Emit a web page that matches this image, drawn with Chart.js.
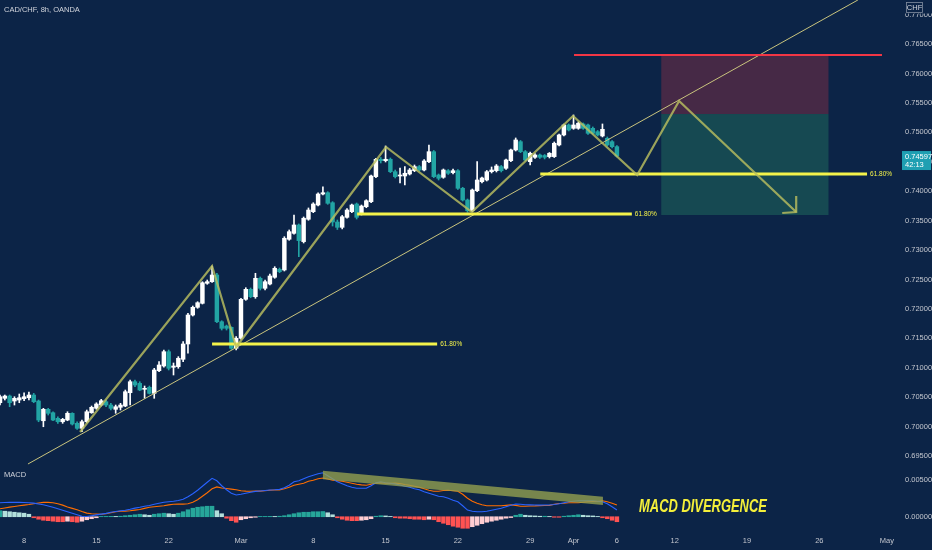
<!DOCTYPE html>
<html>
<head>
<meta charset="utf-8">
<script src="https://cdn.jsdelivr.net/npm/chart.js@4.4.1/dist/chart.umd.min.js"></script>
<style>
  html, body { margin: 0; padding: 0; background: #0c2447; }
  #wrap { width: 932px; height: 550px; position: relative; }
</style>
</head>
<body>
<div id="wrap"><canvas id="chart" width="932" height="550"></canvas></div>
<script>
// 8h candles, index 0 = Feb 8 (15 candles per trading week)
const firstIndex = -5;

const opens = [
  0.70406,0.70481,0.70520,0.70435,0.70452,
  0.70474,0.70491,0.70537,0.70435,0.70100,
  0.70294,0.70236,0.70141,0.70083,0.70112,
  0.70226,0.70056,0.69971,0.70083,0.70236,
  0.70311,0.70367,0.70423,0.70367,0.70294,
  0.70328,0.70350,0.70576,0.70763,0.70735,
  0.70634,0.70668,0.70565,0.70950,0.71030,
  0.71273,0.71008,0.71019,0.71144,0.71404,
  0.71896,0.72027,0.72095,0.72435,0.72462,
  0.72576,0.71782,0.71708,0.71687,0.71331,
  0.71501,0.72163,0.72333,0.72207,0.72520,
  0.72350,0.72423,0.72537,0.72673,0.72661,
  0.73183,0.73284,0.73426,0.73143,0.73523,
  0.73652,0.73765,0.73952,0.73974,0.73804,
  0.73476,0.73386,0.73556,0.73652,0.73782,
  0.73612,0.73736,0.73821,0.74247,0.74542,
  0.74518,0.74542,0.74331,0.74258,0.74258,
  0.74292,0.74348,0.74417,0.74360,0.74501,
  0.74671,0.74275,0.74236,0.74348,0.74315,
  0.74348,0.74049,0.73850,0.73668,0.74008,
  0.74161,0.74190,0.74331,0.74348,0.74417,
  0.74389,0.74518,0.74700,0.74841,0.74671,
  0.74501,0.74576,0.74615,0.74606,0.74587,
  0.74587,0.74785,0.74955,0.75125,0.75068,
  0.75068,0.75142,0.75125,0.75068,0.75011,
  0.74938,0.74898,0.74841,0.74756
];
const highs = [
  0.70537,0.70537,0.70537,0.70508,0.70554,
  0.70576,0.70588,0.70565,0.70452,0.70311,
  0.70311,0.70253,0.70168,0.70141,0.70253,
  0.70236,0.70083,0.70112,0.70282,0.70350,
  0.70406,0.70464,0.70452,0.70396,0.70367,
  0.70396,0.70622,0.70792,0.70792,0.70763,
  0.70690,0.70690,0.70990,0.71103,0.71302,
  0.71302,0.71081,0.71189,0.71443,0.71925,
  0.72049,0.72122,0.72462,0.72491,0.72729,
  0.72605,0.71799,0.71725,0.71695,0.71528,
  0.72180,0.72360,0.72355,0.72605,0.72542,
  0.72491,0.72593,0.72717,0.72695,0.73227,
  0.73341,0.73596,0.73443,0.73562,0.73715,
  0.73804,0.73974,0.74076,0.73991,0.73822,
  0.73510,0.73588,0.73706,0.73782,0.73799,
  0.73765,0.73855,0.74275,0.74559,0.74572,
  0.74768,0.74564,0.74360,0.74394,0.74417,
  0.74386,0.74445,0.74437,0.74538,0.74785,
  0.74691,0.74292,0.74377,0.74368,0.74377,
  0.74368,0.74066,0.73867,0.74037,0.74501,
  0.74241,0.74352,0.74411,0.74453,0.74437,
  0.74547,0.74717,0.74904,0.74861,0.74691,
  0.74666,0.74640,0.74632,0.74623,0.74657,
  0.74836,0.74972,0.75142,0.75142,0.75295,
  0.75176,0.75159,0.75142,0.75091,0.75031,
  0.75142,0.74921,0.74861,0.74776
];
const lows = [
  0.70367,0.70452,0.70338,0.70367,0.70406,
  0.70440,0.70452,0.70406,0.70083,0.69998,
  0.70197,0.70100,0.70056,0.70056,0.70100,
  0.70027,0.69954,0.69913,0.70066,0.70226,
  0.70294,0.70350,0.70338,0.70282,0.70226,
  0.70282,0.70338,0.70367,0.70678,0.70610,
  0.70481,0.70554,0.70481,0.70933,0.71008,
  0.70962,0.70877,0.70991,0.71103,0.71246,
  0.71879,0.72010,0.72083,0.72418,0.72452,
  0.71765,0.71641,0.71641,0.71313,0.71302,
  0.71484,0.72146,0.72190,0.72180,0.72321,
  0.72321,0.72406,0.72520,0.72615,0.72644,
  0.73166,0.73268,0.72887,0.73120,0.73506,
  0.73635,0.73748,0.73935,0.73777,0.73408,
  0.73349,0.73359,0.73540,0.73635,0.73527,
  0.73595,0.73719,0.73804,0.74230,0.74479,
  0.74496,0.74314,0.74224,0.74139,0.74105,
  0.74275,0.74331,0.74343,0.74343,0.74484,
  0.74230,0.74190,0.74219,0.74284,0.74292,
  0.74032,0.73833,0.73641,0.73651,0.73991,
  0.74139,0.74173,0.74309,0.74326,0.74326,
  0.74368,0.74501,0.74683,0.74654,0.74513,
  0.74445,0.74555,0.74555,0.74547,0.74564,
  0.74572,0.74768,0.74938,0.75023,0.75051,
  0.75051,0.75051,0.74966,0.74966,0.74938,
  0.74921,0.74768,0.74734,0.74581
];
const closes = [
  0.70508,0.70520,0.70406,0.70481,0.70491,
  0.70508,0.70537,0.70423,0.70112,0.70294,
  0.70226,0.70112,0.70083,0.70124,0.70226,
  0.70044,0.69971,0.70083,0.70253,0.70328,
  0.70384,0.70440,0.70367,0.70311,0.70338,
  0.70367,0.70593,0.70763,0.70707,0.70622,
  0.70651,0.70565,0.70962,0.71047,0.71273,
  0.70991,0.71030,0.71161,0.71404,0.71896,
  0.72027,0.72105,0.72445,0.72462,0.72576,
  0.71782,0.71670,0.71670,0.71331,0.71501,
  0.72163,0.72333,0.72207,0.72520,0.72350,
  0.72462,0.72559,0.72690,0.72632,0.73200,
  0.73312,0.73426,0.73160,0.73540,0.73680,
  0.73782,0.73952,0.73974,0.73794,0.73476,
  0.73386,0.73566,0.73680,0.73765,0.73556,
  0.73748,0.73838,0.74258,0.74542,0.74518,
  0.74542,0.74331,0.74247,0.74275,0.74304,
  0.74360,0.74417,0.74360,0.74513,0.74671,
  0.74247,0.74219,0.74360,0.74304,0.74348,
  0.74049,0.73850,0.73668,0.74020,0.74190,
  0.74224,0.74331,0.74360,0.74428,0.74348,
  0.74530,0.74700,0.74870,0.74671,0.74530,
  0.74644,0.74615,0.74576,0.74576,0.74644,
  0.74814,0.74955,0.75125,0.75040,0.75125,
  0.75154,0.75068,0.74983,0.74983,0.74955,
  0.75051,0.74785,0.74756,0.74597
];

// MACD (12,26,9)
const macdLine = [
  0.00191,0.00193,0.00195,0.00196,0.00195,
  0.00193,0.00191,0.00185,0.00174,0.00163,
  0.00147,0.00129,0.00109,0.00089,0.00068,
  0.00048,0.00027,0.00007,0.00004,0.00014,
  0.00025,0.00035,0.00046,0.00061,0.00071,
  0.00082,0.00089,0.00102,0.00117,0.00129,
  0.00143,0.00153,0.00170,0.00184,0.00197,
  0.00204,0.00210,0.00221,0.00238,0.00272,
  0.00313,0.00361,0.00415,0.00470,0.00523,
  0.00490,0.00422,0.00368,0.00320,0.00296,
  0.00306,0.00320,0.00334,0.00345,0.00351,
  0.00358,0.00365,0.00368,0.00373,0.00395,
  0.00429,0.00477,0.00490,0.00518,0.00545,
  0.00565,0.00586,0.00599,0.00558,0.00518,
  0.00477,0.00449,0.00422,0.00402,0.00388,
  0.00387,0.00387,0.00422,0.00463,0.00477,
  0.00463,0.00456,0.00447,0.00432,0.00415,
  0.00402,0.00381,0.00368,0.00341,0.00320,
  0.00300,0.00279,0.00272,0.00252,0.00225,
  0.00204,0.00150,0.00091,0.00075,0.00068,
  0.00068,0.00075,0.00089,0.00102,0.00116,
  0.00136,0.00157,0.00173,0.00170,0.00163,
  0.00161,0.00159,0.00158,0.00159,0.00159,
  0.00166,0.00177,0.00191,0.00204,0.00211,
  0.00218,0.00218,0.00218,0.00218,0.00211,
  0.00204,0.00177,0.00136,0.00091
];
const signalLine = [
  0.00109,0.00120,0.00131,0.00140,0.00150,
  0.00158,0.00166,0.00177,0.00188,0.00195,
  0.00196,0.00191,0.00177,0.00158,0.00133,
  0.00114,0.00095,0.00071,0.00049,0.00041,
  0.00038,0.00034,0.00041,0.00054,0.00067,
  0.00075,0.00076,0.00082,0.00090,0.00098,
  0.00114,0.00129,0.00136,0.00143,0.00150,
  0.00161,0.00170,0.00173,0.00172,0.00177,
  0.00197,0.00232,0.00279,0.00327,0.00380,
  0.00406,0.00391,0.00385,0.00376,0.00368,
  0.00354,0.00349,0.00347,0.00351,0.00349,
  0.00354,0.00360,0.00364,0.00366,0.00381,
  0.00402,0.00429,0.00443,0.00456,0.00484,
  0.00497,0.00518,0.00528,0.00515,0.00497,
  0.00490,0.00484,0.00470,0.00456,0.00443,
  0.00434,0.00428,0.00443,0.00456,0.00463,
  0.00456,0.00454,0.00458,0.00452,0.00439,
  0.00429,0.00415,0.00402,0.00381,0.00361,
  0.00347,0.00347,0.00357,0.00361,0.00354,
  0.00347,0.00306,0.00252,0.00211,0.00184,
  0.00163,0.00150,0.00150,0.00150,0.00150,
  0.00155,0.00161,0.00155,0.00143,0.00143,
  0.00147,0.00148,0.00151,0.00153,0.00155,
  0.00169,0.00180,0.00184,0.00191,0.00191,
  0.00191,0.00197,0.00204,0.00207,0.00207,
  0.00218,0.00204,0.00184,0.00159
];
const histogram = [
  0.00082,0.00075,0.00068,0.00061,0.00054,
  0.00048,0.00034,-0.00014,-0.00034,-0.00048,
  -0.00054,-0.00061,-0.00068,-0.00068,-0.00061,
  -0.00068,-0.00075,-0.00061,-0.00041,-0.00027,
  -0.00014,0.00004,0.00004,0.00005,0.00004,
  0.00007,0.00014,0.00020,0.00027,0.00034,
  0.00027,0.00020,0.00034,0.00041,0.00048,
  0.00041,0.00034,0.00048,0.00068,0.00095,
  0.00116,0.00129,0.00136,0.00143,0.00143,
  0.00082,0.00041,-0.00020,-0.00054,-0.00075,
  -0.00041,-0.00027,-0.00014,-0.00007,0.00004,
  0.00004,0.00005,0.00004,0.00007,0.00014,
  0.00027,0.00041,0.00054,0.00061,0.00061,
  0.00068,0.00068,0.00071,0.00054,0.00027,
  -0.00014,-0.00034,-0.00048,-0.00054,-0.00054,
  -0.00048,-0.00041,-0.00027,0.00007,0.00014,
  0.00011,0.00004,-0.00014,-0.00020,-0.00020,
  -0.00027,-0.00034,-0.00034,-0.00041,-0.00034,
  -0.00041,-0.00068,-0.00089,-0.00109,-0.00129,
  -0.00143,-0.00157,-0.00157,-0.00136,-0.00116,
  -0.00095,-0.00075,-0.00061,-0.00048,-0.00034,
  -0.00020,-0.00011,0.00020,0.00034,0.00020,
  0.00014,0.00011,0.00007,0.00007,0.00004,
  -0.00007,-0.00007,0.00007,0.00014,0.00020,
  0.00027,0.00020,0.00014,0.00011,0.00004,
  -0.00014,-0.00027,-0.00048,-0.00068
];

// axis ticks
const tickPositions = [0, 15, 30, 45, 60, 75, 90, 105, 114, 123, 135, 150, 165, 179];
const tickLabels = ['8', '15', '22', 'Mar', '8', '15', '22', '29', 'Apr', '6', '12', '19', '26', 'May'];
const priceTicks = [0.695, 0.700, 0.705, 0.710, 0.715, 0.720, 0.725, 0.730, 0.735, 0.740, 0.745, 0.750, 0.755, 0.760, 0.765, 0.770];
const macdTicks = [0, 0.005];

// drawings in (candle index, price) space
const trendLine = [[0.8, 0.69365], [173.0, 0.77248]];
const waveLine = [[11.6, 0.69908], [39.0, 0.72729], [44.0, 0.71353], [75.1, 0.74751], [92.9, 0.73646],
                  [113.9, 0.75277], [127.2, 0.74275], [135.9, 0.75532], [160.2, 0.73646]];
const arrowHead = [[157.3, 0.73629], [160.2, 0.73646], [160.2, 0.73918]];
const fibLevels = [
  { from: 39.0, to: 85.7, price: 0.71404, label: '61.80%' },
  { from: 69.1, to: 126.1, price: 0.73612, label: '61.80%' },
  { from: 107.1, to: 174.9, price: 0.74292, label: '61.80%' }
];
const stopLine = { from: 114.1, to: 178.0, price: 0.76314 };
const riskZone = { from: 132.2, to: 166.9, top: 0.76314, bottom: 0.75311 };
const rewardZone = { from: 132.2, to: 166.9, top: 0.75311, bottom: 0.73595 };
const divergenceBand = [[62.0, 0.00627], [120.1, 0.00272], [120.1, 0.00159], [62.0, 0.00510]];
const divergenceText = { x: 127.6, y: 0.00064, text: 'MACD DIVERGENCE' };

const upColor = '#ffffff';
const downColor = '#22a4a4';
const axisFont = { family: 'Liberation Sans', size: 7.5 };
const axisColor = '#c3c6ce';

const indexes = closes.map((c, i) => firstIndex + i);
const wickData = indexes.map((v, i) => ({ x: v, y: [lows[i], highs[i]] }));
const bodyData = indexes.map((v, i) => ({ x: v, y: [opens[i], closes[i]] }));
const candleColor = ctx => closes[ctx.dataIndex] >= opens[ctx.dataIndex] ? upColor : downColor;
const histColor = ctx => {
  const i = ctx.dataIndex;
  const h = histogram[i];
  const prev = i > 0 ? histogram[i - 1] : h;
  if (h >= 0) return h >= prev ? '#26a69a' : '#b2dfdb';
  return h <= prev ? '#ff5252' : '#ffcdd2';
};
const noPadding = scale => {
  scale.width = 37;
  scale.paddingTop = 0;
  scale.paddingBottom = 0;
};

function line(ctx, pts, px, py) {
  ctx.beginPath();
  pts.forEach((p, i) => {
    const X = px(p[0]), Y = py(p[1]);
    if (i === 0) ctx.moveTo(X, Y); else ctx.lineTo(X, Y);
  });
}

const drawings = {
  id: 'drawings',
  beforeDatasetsDraw(chart) {
    const { ctx, scales: { x, y } } = chart;
    const px = v => x.getPixelForValue(v);
    const py = v => y.getPixelForValue(v);
    ctx.save();
    ctx.fillStyle = 'rgba(242,54,69,0.25)';
    ctx.fillRect(px(riskZone.from), py(riskZone.top), px(riskZone.to) - px(riskZone.from), py(riskZone.bottom) - py(riskZone.top));
    ctx.fillStyle = 'rgba(50,170,110,0.28)';
    ctx.fillRect(px(rewardZone.from), py(rewardZone.top), px(rewardZone.to) - px(rewardZone.from), py(rewardZone.bottom) - py(rewardZone.top));
    ctx.restore();
  },
  afterDatasetsDraw(chart) {
    const { ctx, scales: { x, y, yM } } = chart;
    const px = v => x.getPixelForValue(v);
    const py = v => y.getPixelForValue(v);
    const pm = v => yM.getPixelForValue(v);

    ctx.save();
    ctx.beginPath();
    ctx.rect(x.left, y.top, x.right - x.left, y.bottom - y.top);
    ctx.clip();

    // thin trend line
    ctx.strokeStyle = '#c9c47e';
    ctx.lineWidth = 1;
    line(ctx, trendLine, px, py);
    ctx.stroke();

    // fib levels
    ctx.strokeStyle = '#f4f34a';
    ctx.lineWidth = 3;
    ctx.fillStyle = '#f4f34a';
    ctx.font = '6.5px "Liberation Sans"';
    ctx.textBaseline = 'middle';
    fibLevels.forEach(f => {
      ctx.beginPath();
      ctx.moveTo(px(f.from), py(f.price));
      ctx.lineTo(px(f.to), py(f.price));
      ctx.stroke();
      ctx.fillText(f.label, px(f.to) + 3, py(f.price) + 0.5);
    });

    // stop line
    ctx.strokeStyle = '#f23645';
    ctx.lineWidth = 2;
    ctx.beginPath();
    ctx.moveTo(px(stopLine.from), py(stopLine.price));
    ctx.lineTo(px(stopLine.to), py(stopLine.price));
    ctx.stroke();

    // wave projection
    ctx.strokeStyle = 'rgba(185,190,95,0.82)';
    ctx.lineWidth = 2.2;
    ctx.lineJoin = 'miter';
    line(ctx, waveLine, px, py);
    ctx.stroke();
    line(ctx, arrowHead, px, py);
    ctx.stroke();
    ctx.restore();

    // divergence band on MACD
    ctx.save();
    ctx.fillStyle = 'rgba(150,162,80,0.78)';
    line(ctx, divergenceBand, px, pm);
    ctx.closePath();
    ctx.fill();
    ctx.restore();
  },
  afterDraw(chart) {
    const { ctx, scales: { x, y, yM } } = chart;
    ctx.save();
    ctx.fillStyle = '#d1d4dc';
    ctx.font = '7.5px "Liberation Sans"';
    ctx.textBaseline = 'middle';
    ctx.fillText('CAD/CHF, 8h, OANDA', 4, 10);
    ctx.fillText('MACD', 4, yM.top + 9);

    // currency label over top tick
    ctx.fillStyle = '#0c2447';
    ctx.fillRect(y.left + 1, 0, y.width, 13.5);
    ctx.strokeStyle = 'rgba(209,212,220,0.6)';
    ctx.lineWidth = 0.8;
    ctx.strokeRect(y.left + 11.5, 2.5, 16, 10);
    ctx.fillStyle = '#d1d4dc';
    ctx.textAlign = 'center';
    ctx.fillText('CHF', y.left + 19.5, 7.5);

    // last price label
    const last = closes[closes.length - 1];
    const ly = y.getPixelForValue(last);
    ctx.fillStyle = '#1f9fb2';
    ctx.fillRect(y.left + 7, ly - 5, y.width - 8, 19);
    ctx.fillStyle = '#ffffff';
    ctx.textAlign = 'left';
    ctx.fillText(last.toFixed(5), y.left + 10, ly + 0.5);
    ctx.fillText('42:13', y.left + 10, ly + 8.5);

    // divergence caption
    ctx.translate(x.getPixelForValue(divergenceText.x), yM.getPixelForValue(divergenceText.y));
    ctx.scale(0.68, 1);
    ctx.font = 'italic bold 19px "Liberation Sans"';
    ctx.fillStyle = '#f4ef3a';
    ctx.textBaseline = 'alphabetic';
    ctx.fillText(divergenceText.text, 0, 0);
    ctx.restore();
  }
};

new Chart(document.getElementById('chart'), {
  type: 'bar',
  data: {
    datasets: [
      { type: 'line', data: indexes.map((v, i) => ({ x: v, y: macdLine[i] })), xAxisID: 'x', yAxisID: 'yM',
        borderColor: '#2962ff', borderWidth: 1.1, pointRadius: 0, order: 1 },
      { type: 'line', data: indexes.map((v, i) => ({ x: v, y: signalLine[i] })), xAxisID: 'x', yAxisID: 'yM',
        borderColor: '#ff6d00', borderWidth: 1.1, pointRadius: 0, order: 1 },
      { type: 'bar', data: indexes.map((v, i) => ({ x: v, y: histogram[i] })), xAxisID: 'x', yAxisID: 'yM',
        backgroundColor: histColor, barThickness: 3.8, grouped: false, order: 3 },
      { type: 'bar', data: wickData, xAxisID: 'x', yAxisID: 'y',
        backgroundColor: candleColor, barThickness: 1, grouped: false, order: 5 },
      { type: 'bar', data: bodyData, xAxisID: 'x', yAxisID: 'y',
        backgroundColor: candleColor, barThickness: 3.8, minBarLength: 1, grouped: false, order: 4 }
    ]
  },
  options: {
    responsive: false,
    animation: false,
    devicePixelRatio: 1,
    layout: { padding: 0 },
    scales: {
      x: {
        type: 'linear',
        min: -5,
        max: 180.7,
        offset: false,
        grid: { display: false, drawTicks: false },
        border: { display: false },
        afterBuildTicks: scale => { scale.ticks = tickPositions.map(v => ({ value: v })); },
        afterFit: scale => { scale.height = 18; scale.paddingLeft = 0; scale.paddingRight = 0; },
        ticks: {
          autoSkip: false,
          maxRotation: 0,
          padding: 4,
          color: axisColor,
          font: axisFont,
          callback: (value, index) => tickLabels[index]
        }
      },
      y: {
        type: 'linear',
        position: 'right',
        stack: 'panes',
        stackWeight: 466,
        min: 0.69331,
        max: 0.77248,
        grid: { display: false, drawTicks: false },
        border: { display: false },
        afterBuildTicks: scale => { scale.ticks = priceTicks.map(v => ({ value: v })); },
        afterFit: noPadding,
        ticks: { padding: 10, color: axisColor, font: axisFont, callback: v => v.toFixed(5) }
      },
      yM: {
        type: 'linear',
        position: 'right',
        stack: 'panes',
        stackWeight: 66,
        min: -0.00208,
        max: 0.00691,
        grid: { display: false, drawTicks: false },
        border: { display: false },
        afterBuildTicks: scale => { scale.ticks = macdTicks.map(v => ({ value: v })); },
        afterFit: noPadding,
        ticks: { padding: 10, color: axisColor, font: axisFont, callback: v => v.toFixed(5) }
      }
    },
    plugins: {
      legend: { display: false },
      tooltip: { enabled: false }
    }
  },
  plugins: [drawings]
});
</script>
</body>
</html>
